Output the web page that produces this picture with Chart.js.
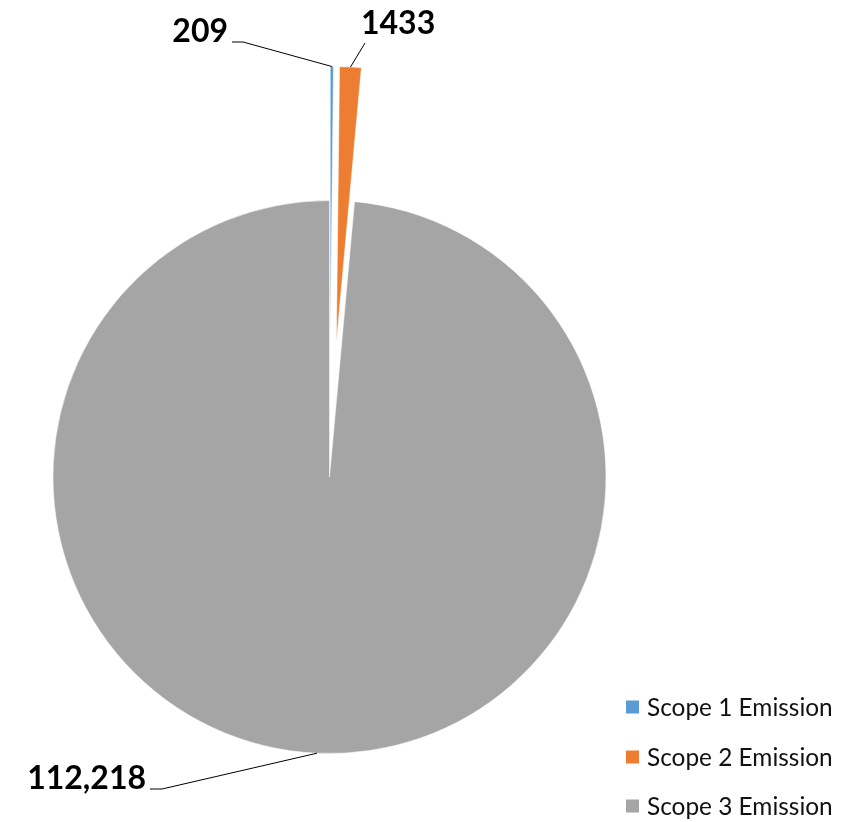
<!DOCTYPE html>
<html><head><meta charset="utf-8">
<script src="https://cdn.jsdelivr.net/npm/chart.js@4"></script>
<style>html,body{margin:0;padding:0;background:#fff;} canvas{display:block;}</style>
</head><body>
<canvas id="c" width="856" height="822"></canvas>
<script>
// ---- data ----
const categories = ['Scope 1 Emission', 'Scope 2 Emission', 'Scope 3 Emission'];
const emissions = [209, 1433, 112218];
const valueLabels = ['209', '1433', '112,218'];

// ---- styles / layout ----
const sliceColors = ['#5B9BD5', '#ED7D31', '#A5A5A5'];
const explodeDistance = [134, 134, 0];
const labelAnchor = [
  {x: 228, y: 42, align: 'right'},
  {x: 361, y: 34, align: 'left'},
  {x: 146, y: 789, align: 'right'}
];
const leaderStart = [
  [[232, 42], [243, 42]],
  [[365, 43]],
  [[150, 789], [162, 789]]
];
const legendBox = {x: 626, size: 13, textX: 647, rows: [707, 757, 806]};

const explodePlugin = {
  id: 'explodeSlices',
  beforeDatasetDraw(chart, args) {
    const ctx = chart.ctx;
    args.meta.data.forEach((arc, i) => {
      const d = explodeDistance[i] || 0;
      const mid = (arc.startAngle + arc.endAngle) / 2;
      ctx.save();
      ctx.translate(Math.cos(mid) * d, Math.sin(mid) * d);
      arc.draw(ctx);
      ctx.restore();
    });
    return false;
  }
};

const labelPlugin = {
  id: 'leaderLabels',
  afterDraw(chart) {
    const ctx = chart.ctx;
    const meta = chart.getDatasetMeta(0);
    meta.data.forEach((arc, i) => {
      const mid = (arc.startAngle + arc.endAngle) / 2;
      const r = arc.outerRadius + (explodeDistance[i] || 0);
      const tip = {x: arc.x + Math.cos(mid) * r, y: arc.y + Math.sin(mid) * r};
      ctx.save();
      ctx.beginPath();
      leaderStart[i].forEach((p, j) => j ? ctx.lineTo(p[0], p[1]) : ctx.moveTo(p[0], p[1]));
      ctx.lineTo(tip.x, tip.y);
      ctx.strokeStyle = '#000';
      ctx.lineWidth = 1;
      ctx.stroke();
      ctx.font = 'bold 32px Lato';
      ctx.fillStyle = '#000';
      ctx.textAlign = labelAnchor[i].align;
      ctx.textBaseline = 'alphabetic';
      ctx.fillText(valueLabels[i], labelAnchor[i].x, labelAnchor[i].y);
      ctx.restore();
    });
    // legend
    const ds = chart.data.datasets[0];
    ctx.save();
    ctx.font = '24.4px Lato';
    ctx.textAlign = 'left';
    ctx.textBaseline = 'middle';
    chart.data.labels.forEach((lab, i) => {
      const cy = legendBox.rows[i];
      ctx.fillStyle = ds.backgroundColor[i];
      ctx.fillRect(legendBox.x, cy - legendBox.size / 2, legendBox.size, legendBox.size);
      ctx.fillStyle = '#111';
      ctx.fillText(lab, legendBox.textX, cy + 1);
    });
    ctx.restore();
  }
};

new Chart(document.getElementById('c'), {
  type: 'pie',
  data: {
    labels: categories,
    datasets: [{
      data: emissions,
      backgroundColor: sliceColors,
      borderColor: '#ffffff',
      borderWidth: 0.5,
      clip: false
    }]
  },
  options: {
    responsive: false,
    animation: false,
    radius: 276.5,
    layout: {padding: {left: 0, right: 197, top: 132, bottom: 0}},
    plugins: {legend: {display: false}, tooltip: {enabled: false}}
  },
  plugins: [explodePlugin, labelPlugin]
});
</script>
</body></html>
